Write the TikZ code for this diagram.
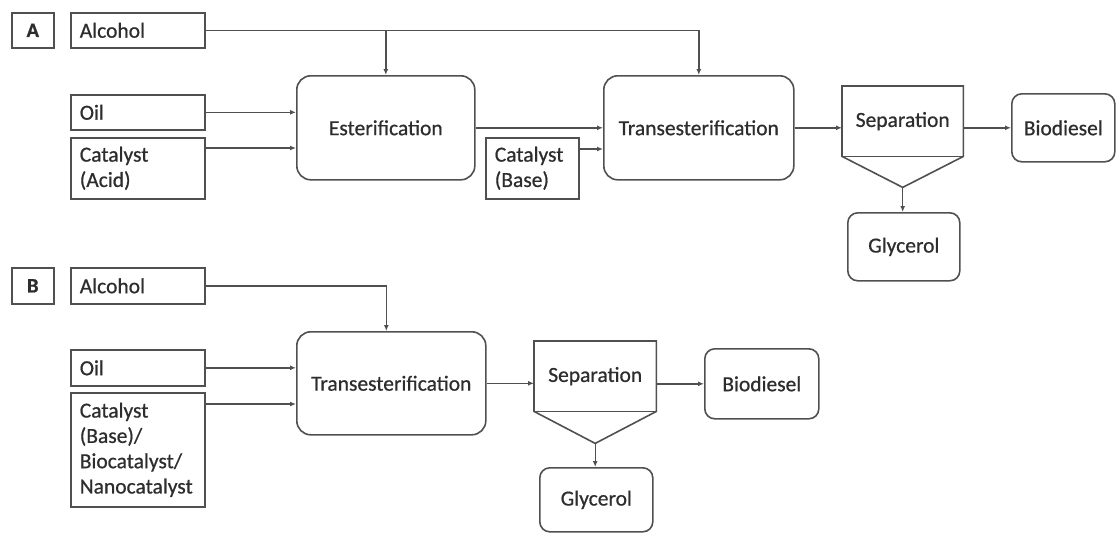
\documentclass[tikz,border=0pt]{standalone}
\usepackage{fontspec}
\setmainfont{Carlito}[FakeBold=0.7]
\usetikzlibrary{arrows.meta,calc}
\definecolor{bord}{RGB}{80,80,80}
\definecolor{txt}{RGB}{45,45,45}
\begin{document}
\begin{tikzpicture}[x=1pt,y=-1pt,
  every node/.style={font=\fontsize{21.5}{25.3}\selectfont, text=txt},
  inbox/.style={draw=bord, line width=1.6pt, inner xsep=9pt, inner ysep=0pt, align=left, text width=116pt, anchor=north west},
  lblbox/.style={draw=bord, line width=1.6pt, inner sep=0pt, minimum width=42pt, minimum height=35pt, anchor=north west, font=\fontsize{20.5}{25.3}\selectfont\bfseries},
  procbox/.style={draw=bord, line width=1.6pt, rounded corners=14pt, inner sep=0pt, anchor=north west},
  prodbox/.style={draw=bord, line width=1.6pt, rounded corners=10pt, inner sep=0pt, anchor=north west},
  sepbox/.style={inner sep=0pt, anchor=north west},
  sepline/.style={draw=bord, line width=1.6pt, line join=miter},
  conn/.style={draw=bord, line width=1.4pt, -{Latex[length=6pt,width=5pt]}},
  plain/.style={draw=bord, line width=1.4pt}
]
\useasboundingbox (0,0) rectangle (1117,533);

% ---------- Panel A ----------
\node[lblbox] (labA) at (11,12) {A};
\node[inbox, minimum height=35pt] (alcA) at (70,12) {Alcohol};
\node[inbox, minimum height=35pt] (oilA) at (70,94) {Oil};
\node[inbox, minimum height=61pt] (catA) at (70,137) {Catalyst\\(Acid)};
\node[procbox, minimum width=178pt, minimum height=104pt] (esterA) at (296,75) {Esterification};
\node[inbox, text width=75pt, minimum height=61pt] (catbA) at (485,137) {Catalyst\\(Base)};
\node[procbox, minimum width=190pt, minimum height=104pt] (transA) at (603,75) {Transesterification};
\node[sepbox, minimum width=121pt, minimum height=70pt] (sepA) at (842,86) {Separation};
\coordinate (tipA) at ($(sepA.south)+(0,31)$);
\draw[sepline] (sepA.north west) -- (sepA.north east) -- (sepA.south east) -- (tipA) -- (sepA.south west) -- cycle;
\draw[sepline] (sepA.south west) -- (sepA.south east);
\node[prodbox, minimum width=112pt, minimum height=68pt] (glyA) at (847,212) {Glycerol};
\node[prodbox, minimum width=103pt, minimum height=68pt] (bioA) at (1011,93) {Biodiesel};

\draw[conn] (alcA.east) -| (transA.north);
\draw[conn] (alcA.east -| esterA.north) -- (esterA.north);
\draw[conn] (oilA.east) -- (oilA.east -| esterA.west);
\draw[conn] ([yshift=-11pt]catA.north east) -- ([yshift=-11pt]catA.north east -| esterA.west);
\draw[conn] (esterA.east) -- (transA.west);
\draw[conn] ([yshift=-12pt]catbA.north east) -- ([yshift=-12pt]catbA.north east -| transA.west);
\draw[conn] (transA.east) -- (transA.east -| sepA.west);
\draw[conn] (bioA.west -| sepA.east) -- (bioA.west);
\draw[conn] (tipA) -- (tipA |- glyA.north);

% ---------- Panel B ----------
\node[lblbox, minimum height=36pt] (labB) at (11,267) {B};
\node[inbox, minimum height=36pt] (alcB) at (70,267) {Alcohol};
\node[inbox, minimum height=36pt] (oilB) at (70,349) {Oil};
\node[inbox, minimum height=114pt] (catB) at (70,392) {Catalyst\\(Base)/\\Biocatalyst/\\Nanocatalyst};
\node[procbox, minimum width=189pt, minimum height=103pt] (transB) at (296,331) {Transesterification};
\node[sepbox, minimum width=122pt, minimum height=70pt] (sepB) at (534,341) {Separation};
\coordinate (tipB) at ($(sepB.south)+(0,32)$);
\draw[sepline] (sepB.north west) -- (sepB.north east) -- (sepB.south east) -- (tipB) -- (sepB.south west) -- cycle;
\draw[sepline] (sepB.south west) -- (sepB.south east);
\node[prodbox, minimum width=113pt, minimum height=64pt] (glyB) at (539,467) {Glycerol};
\node[prodbox, minimum width=114pt, minimum height=70pt] (bioB) at (704,348) {Biodiesel};

\draw[conn] (alcB.east) -| ([xshift=-5pt]transB.north);
\draw[conn] (oilB.east) -- (oilB.east -| transB.west);
\draw[conn] ([yshift=-12pt]catB.north east) -- ([yshift=-12pt]catB.north east -| transB.west);
\draw[conn] (transB.east) -- (transB.east -| sepB.west);
\draw[conn] (bioB.west -| sepB.east) -- (bioB.west);
\draw[conn] (tipB) -- (tipB |- glyB.north);
\end{tikzpicture}
\end{document}
